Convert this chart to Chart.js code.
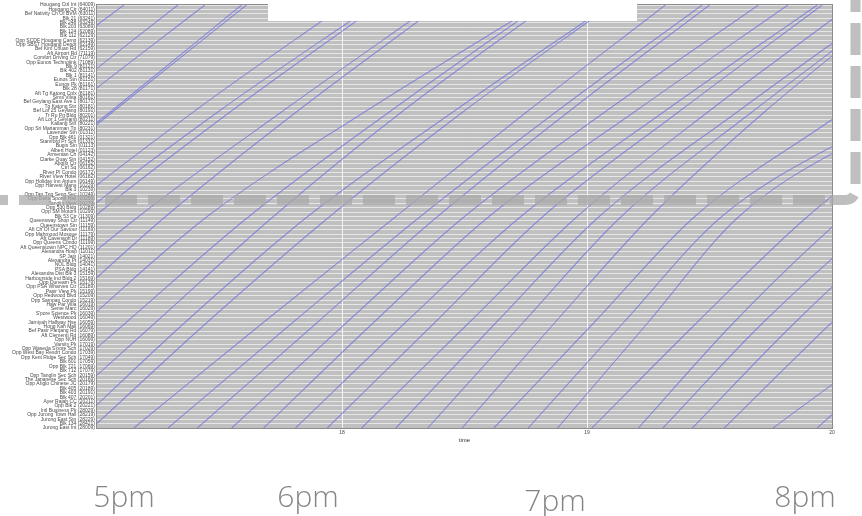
<!DOCTYPE html>
<html lang="en">
<head>
<meta charset="UTF-8" />
<title>Bus trips, Jurong East to Hougang</title>
<script src="https://cdn.jsdelivr.net/npm/chart.js"></script>
<style>
  html, body { margin: 0; padding: 0; background: #fff; }
  #wrap { position: relative; width: 862px; height: 516px; overflow: hidden; }
  #chart { position: absolute; left: 0; top: 0; }
  .hour { position: absolute; top: 481px; font-family: "Open Sans", sans-serif; font-weight: 300;
          font-size: 30px; line-height: 30px; color: #858585; transform: translateX(-50%); white-space: nowrap; }
</style>
</head>
<body>
<div id="wrap">
  <canvas id="chart" width="862" height="516"></canvas>
  <div class="hour" style="left:124px">5pm</div>
  <div class="hour" style="left:308px">6pm</div>
  <div class="hour" style="left:555px;top:485px">7pm</div>
  <div class="hour" style="left:805px">8pm</div>
</div>
<script>
// stops, read top (Hougang) to bottom (Jurong East)
const stopNames = [
  "Hougang Ctrl Int", "Hougang Ctr", "Bef Nativity Ch Of BVM", "Blk 21", "Blk 248", "Blk 203", "Blk 124", "Blk 112",
  "Opp SCDF Hougang Camp", "Opp SBST Hougang Depot", "Bef Kim Chuan Rd", "Aft Airport Rd", "Comfort Driving Ctr",
  "Opp Eunos Technolink", "Blk 9", "Blk 402", "Blk 1", "Eunos Stn", "Eunos Pk", "Blk 28", "Aft Tg Katong Cplx",
  "Sims Vista", "Bef Geylang East Ave 1", "Tg Katong Stn", "Bef Lor 25 Geylang", "Tr Ru Pg Bldg", "Aft Lor 1 Geylang",
  "Kallang Stn", "Opp Sri Mariamman Tp", "Lavender Stn", "Opp Blk 461", "Stamford Pr Sch", "Bugis Stn", "Albert Hotel",
  "Armenian Ch", "Clarke Quay Stn", "Apollo Ctr", "Ctrl Sq", "River Pl Condo", "River View Hotel",
  "Opp Holiday Inn Atrium", "Opp Harvest Mans", "Blk 3", "Opp Tan Tng Seng Sec", "Opp Delta Sports Hall",
  "Tanglin View", "Opp 530 Bldg", "Opp SM Motors", "Blk 53 Ctr", "Queensway Shop Ctr", "Queenstown Stn",
  "Aft Ch Of Our Saviour", "Opp Mahmood Mosque", "Aft Cavenagh Dr", "Opp Queens Condo", "Aft Queenstown NPC HQ",
  "Alexandra Hosp", "SP Jain", "Alexandra Pt", "NOL Bldg", "PSA Bldg", "Alexandra Dist Blk 3",
  "Harbourside Ind Bldg 2", "Opp Dunearn Pk", "Opp PSA Wharves Ctr", "Pasir View Pk", "Opp Redwood Blvd",
  "Opp Sampan Condo", "Haw Par Villa", "Seme Marc", "S'pore Science Pk", "Westwood", "Jamiyah Halfway Hse",
  "Hong Kah Mall", "Bef Pasir Panjang Rd", "Aft Clementi Rd", "Opp NUH", "Varsity Pk", "Opp Waseda S'pore Sch",
  "Opp West Bay Resort Condo", "Opp Kent Ridge Sec Sch", "Blk 601", "Opp Blk 721", "Blk 712", "Opp Tanglin Sec Sch",
  "The Japanese Sec Sch", "Opp Anglo Chinese JC", "Blk 405", "Blk 403", "Blk 407", "Ayer Rajah CC", "Opp Blk 2",
  "Intl Business Pk", "Opp Jurong Town Hall", "Jurong East Stn", "Blk 134", "Jurong East Int"
];
const stopCodes = [
  "64009", "64011", "63011", "63241", "63249", "63089", "62089", "62129", "62139", "62149", "62159", "71119",
  "71079", "71089", "81121", "81131", "81141", "81151", "81161", "81171", "81181", "80161", "80171", "80181",
  "80191", "80201", "80211", "80221", "80231", "01311", "01321", "01331", "01113", "01123", "04142", "04152",
  "06152", "06162", "06172", "06182", "06149", "10229", "10239", "10249", "10259", "10279", "10289", "10299",
  "11309", "11149", "11159", "11169", "11179", "11189", "11199", "11201", "11011", "14021", "14031", "14041",
  "14141", "15159", "15169", "15179", "15189", "15199", "15209", "15219", "16019", "16029", "16039", "16049",
  "16059", "16069", "16079", "16089", "16099", "17019", "17029", "17039", "17049", "17059", "17069", "17079",
  "20159", "20169", "20179", "20189", "20191", "20201", "20211", "20221", "28029", "28219", "28229", "28421",
  "28009"
];

// stop positions (counted from Jurong East Int) where each trip's time is read
const stopMarks = [0, 24, 48, 72, 96];

// one row per bus trip: clock time in hours at each of stopMarks
const tripTimes = [
  [15.01, 15.49, 15.98, 16.53, 17.11],
  [15.30, 15.77, 16.24, 16.78, 17.33],
  [15.40, 15.87, 16.34, 16.88, 17.44],
  [15.56, 16.04, 16.52, 17.06, 17.59],
  [15.58, 16.05, 16.54, 17.07, 17.61],
  [15.88, 16.36, 16.84, 17.40, 18.01],
  [15.97, 16.45, 16.93, 17.50, 18.13],
  [16.02, 16.50, 16.99, 17.55, 18.15],
  [16.17, 16.65, 17.17, 17.76, 18.37],
  [16.33, 16.80, 17.28, 17.82, 18.40],
  [16.47, 16.95, 17.45, 18.10, 18.80],
  [16.62, 17.12, 17.62, 18.20, 18.81],
  [16.76, 17.24, 17.72, 18.25, 18.84],
  [16.90, 17.36, 17.86, 18.46, 19.09],
  [16.98, 17.45, 17.95, 18.50, 19.10],
  [17.15, 17.68, 18.22, 18.76, 19.32],
  [17.29, 17.80, 18.32, 18.88, 19.47],
  [17.41, 17.90, 18.39, 18.93, 19.50],
  [17.55, 18.02, 18.50, 19.08, 19.70],
  [17.68, 18.13, 18.60, 19.20, 19.82],
  [17.81, 18.26, 18.73, 19.32, 19.94],
  [17.94, 18.38, 18.82, 19.38, 19.96],
  [18.08, 18.52, 18.96, 19.50, 20.08],
  [18.22, 18.63, 19.05, 19.62, 20.22],
  [18.35, 18.74, 19.14, 19.68, 20.25],
  [18.49, 18.87, 19.26, 19.73, 20.26],
  [18.62, 19.03, 19.44, 20.05, 20.62],
  [18.76, 19.15, 19.55, 20.25, 20.85],
  [18.88, 19.25, 19.62, 20.30, 20.90],
  [19.02, 19.45, 19.90, 20.45, 21.00],
  [19.21, 19.60, 20.05, 20.60, 21.15],
  [19.31, 19.72, 20.20, 20.75, 21.30],
  [19.43, 19.85, 20.32, 20.88, 21.45],
  [19.56, 20.00, 20.46, 21.00, 21.55],
  [19.76, 20.33, 20.80, 21.35, 21.90],
  [19.94, 20.41, 20.88, 21.42, 21.98]
];

const hourTicks = [17, 18, 19, 20];
const tickFont = { family: "'Liberation Sans', Arial, sans-serif", size: 5 };
const lastStop = stopNames.length - 1;

// grey panel behind the plot + frame
const panel = {
  id: "panel",
  beforeDraw(c) {
    const a = c.chartArea, g = c.ctx;
    g.save();
    g.fillStyle = "#c0c0c0";
    g.fillRect(a.left, a.top, a.right - a.left, a.bottom - a.top);
    g.restore();
  },
  afterDraw(c) {
    const a = c.chartArea, g = c.ctx;
    g.save();
    g.strokeStyle = "#8c8c8c";
    g.lineWidth = 1;
    g.strokeRect(a.left - 0.5, a.top - 0.5, a.right - a.left + 1, a.bottom - a.top + 1);
    g.restore();
  }
};

// white box and grey dashed marker drawn over the picture
const marks = {
  id: "marks",
  afterDraw(c) {
    const g = c.ctx;
    g.save();
    g.fillStyle = "#fff";
    g.fillRect(268, 0, 369, 21);
    g.strokeStyle = "rgba(170,170,170,0.75)";
    g.lineWidth = 10;
    g.setLineDash([32, 11]);
    g.lineDashOffset = 24;
    g.beginPath(); g.moveTo(0, 200); g.lineTo(830, 200); g.stroke();
    g.lineDashOffset = 0;
    g.beginPath();
    g.moveTo(855.5, -20); g.lineTo(855.5, 190);
    g.arcTo(855.5, 200, 845.5, 200, 10);
    g.lineTo(830, 200);
    g.stroke();
    g.restore();
  }
};

new Chart(document.getElementById("chart"), {
  type: "line",
  data: {
    datasets: tripTimes.map(times => ({
      data: times.map((t, i) => ({ x: t, y: stopMarks[i] })),
      borderColor: "rgba(92,92,226,0.58)",
      borderWidth: 1.1,
      pointRadius: 0,
      cubicInterpolationMode: "monotone",
      fill: false
    }))
  },
  options: {
    responsive: false,
    animation: false,
    layout: { padding: { left: 0, right: 30, top: 5, bottom: 72 } },
    plugins: { legend: { display: false }, tooltip: { enabled: false } },
    scales: {
      x: {
        type: "linear", min: 17, max: 20,
        afterBuildTicks: s => { s.ticks = hourTicks.map(v => ({ value: v })); },
        afterFit: s => { s.height = 16; },
        ticks: { font: tickFont, color: "#444", padding: 2, maxRotation: 0, autoSkip: false,
                 callback: v => (v === 17 ? "" : String(v)) },
        grid: { drawTicks: false, lineWidth: 1,
                color: ctx => (ctx.tick && (ctx.tick.value === 18 || ctx.tick.value === 19)) ? "rgba(255,255,255,0.85)" : "rgba(0,0,0,0)" },
        border: { display: false },
        title: { display: true, text: "time", font: { family: tickFont.family, size: 6 }, color: "#333", padding: 0 }
      },
      y: {
        type: "linear", min: 0, max: lastStop,
        afterBuildTicks: s => { s.ticks = stopNames.map((_, i) => ({ value: i })); },
        afterFit: s => { s.width = 97; },
        ticks: { font: tickFont, color: "#4a4a4a", padding: 2, autoSkip: false,
                 callback: v => stopNames[lastStop - v] + " (" + stopCodes[lastStop - v] + ")" },
        grid: { drawTicks: false, color: "rgba(255,255,255,0.6)", lineWidth: 1 },
        border: { display: false }
      }
    }
  },
  plugins: [panel, marks]
});
</script>
</body>
</html>
